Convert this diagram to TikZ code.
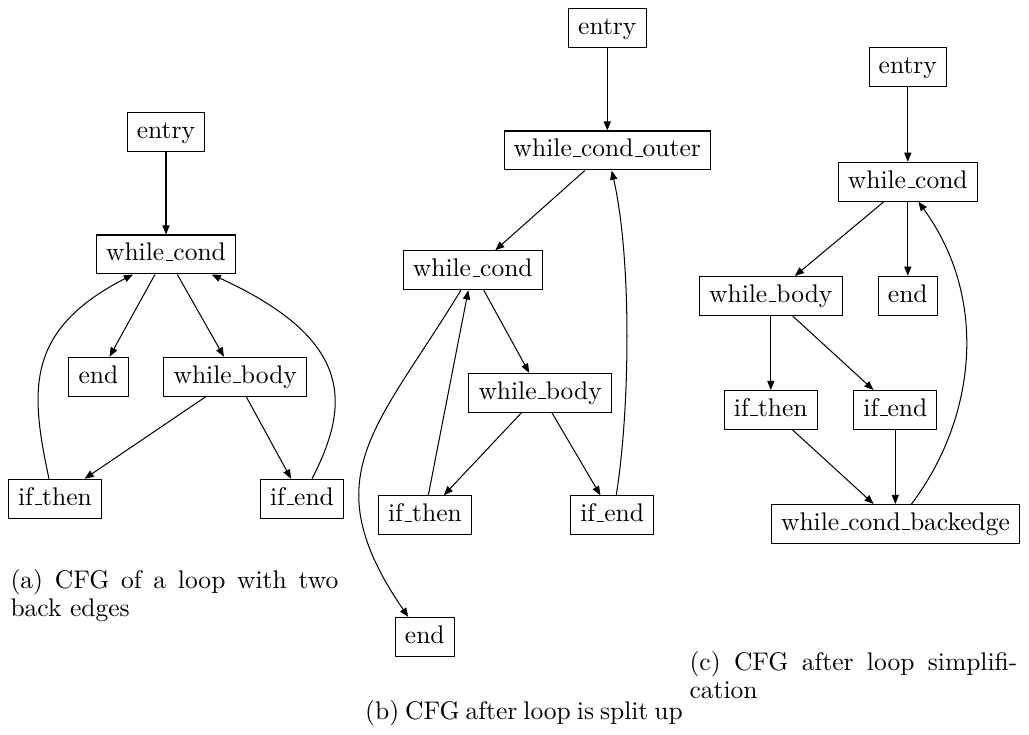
\documentclass[tikz,border=0pt]{standalone}
\usetikzlibrary{arrows.meta,calc}
% low rule underscore, sitting on the baseline
\newcommand{\usc}{\leavevmode\kern.06em\vbox{\hrule width.3em}}
\begin{document}
\begin{tikzpicture}[x=0.392pt,y=-0.392pt,
  block/.style={draw, rectangle, inner xsep=3.8pt, inner ysep=3.2pt,
    text height=6.94pt, text depth=1.94pt},
  flow/.style={-{Triangle[length=3.6pt,width=2.8pt]}, line width=0.4pt},
  caption/.style={anchor=base west, inner sep=0pt}]
\useasboundingbox (0,0) rectangle (1029,735);

% ---------- (a) loop with two back edges ----------
\node[block] (a-entry) at (166,132)   {entry};
\node[block] (a-cond)  at (166,254.5) {while\usc cond};
\node[block] (a-end)   at (98.5,376.7) {end};
\node[block] (a-body)  at (235.3,376.7) {while\usc body};
\node[block] (a-then)  at (55,498.8)  {if\usc then};
\node[block] (a-ifend) at (302,498.8) {if\usc end};

\draw[flow] (a-entry) -- (a-cond);
\draw[flow] (a-cond) -- (a-end);
\draw[flow] (a-cond) -- (a-body);
\draw[flow] (a-body) -- (a-then);
\draw[flow] (a-body) -- (a-ifend);
\draw[flow] ($(a-then.north)+(-6,0)$) .. controls (30,390) and (25,330) .. ($(a-cond.south)+(-33,0)$);
\draw[flow] ($(a-ifend.north)+(10,0)$) .. controls (350,405) and (355,340) .. ($(a-cond.south)+(45.7,0)$);

\node[caption] (capA1) at (10,588) {\makebox[128.5pt][s]{(a) CFG of a loop with two}};
\node[caption] (capA2) at (10,616) {back edges};

% ---------- (b) loop split up ----------
\node[block] (b-entry) at (607.3,27.8)  {entry};
\node[block] (b-outer) at (607.3,150.5) {while\usc cond\usc outer};
\node[block] (b-cond)  at (472.8,270.3) {while\usc cond};
\node[block] (b-body)  at (540.2,392.8) {while\usc body};
\node[block] (b-then)  at (425,515.3)   {if\usc then};
\node[block] (b-ifend) at (612.2,515.3) {if\usc end};
\node[block] (b-end)   at (424.8,637)   {end};

\draw[flow] (b-entry) -- (b-outer);
\draw[flow] (b-outer) -- (b-cond);
\draw[flow] (b-cond) -- (b-body);
\draw[flow] (b-body) -- (b-then);
\draw[flow] (b-body) -- (b-ifend);
\draw[flow] ($(b-then.north)+(3.3,0)$) -- ($(b-cond.south)+(-4.5,0)$);
\draw[flow] ($(b-cond.south)+(-12,0)$) .. controls (376.7,429) and (311.7,476) .. ($(b-end.north)+(-16.5,0)$);
\draw[flow] ($(b-ifend.north)+(4,0)$) .. controls (630,410) and (632,260) .. ($(b-outer.south)+(4.4,0)$);

\node[anchor=base, inner sep=0pt] (capB) at (524,719)
  {\makebox[124.5pt][s]{(b) CFG after loop is split up}};

% ---------- (c) after loop simplification ----------
\node[block] (c-entry) at (907.8,67)    {entry};
\node[block] (c-cond)  at (907.8,181.8) {while\usc cond};
\node[block] (c-body)  at (770.8,296)   {while\usc body};
\node[block] (c-end)   at (907.8,295.8) {end};
\node[block] (c-then)  at (770.8,410)   {if\usc then};
\node[block] (c-ifend) at (895.3,410)   {if\usc end};
\node[block] (c-back)  at (895.5,524)   {while\usc cond\usc backedge};

\draw[flow] (c-entry) -- (c-cond);
\draw[flow] (c-cond) -- (c-body);
\draw[flow] (c-cond) -- (c-end);
\draw[flow] (c-body) -- (c-then);
\draw[flow] (c-body) -- (c-ifend);
\draw[flow] (c-then) -- (c-back);
\draw[flow] (c-ifend.south) -- (c-ifend.south |- c-back.north);
\draw[flow] ($(c-back.north)+(16,0)$) .. controls (975,420) and (990,300) .. ($(c-cond.south)+(10.6,0)$);

\node[caption] (capC1) at (689,670) {\makebox[128.5pt][s]{(c) CFG after loop simplifi-}};
\node[caption] (capC2) at (689,698) {cation};
\end{tikzpicture}
\end{document}
